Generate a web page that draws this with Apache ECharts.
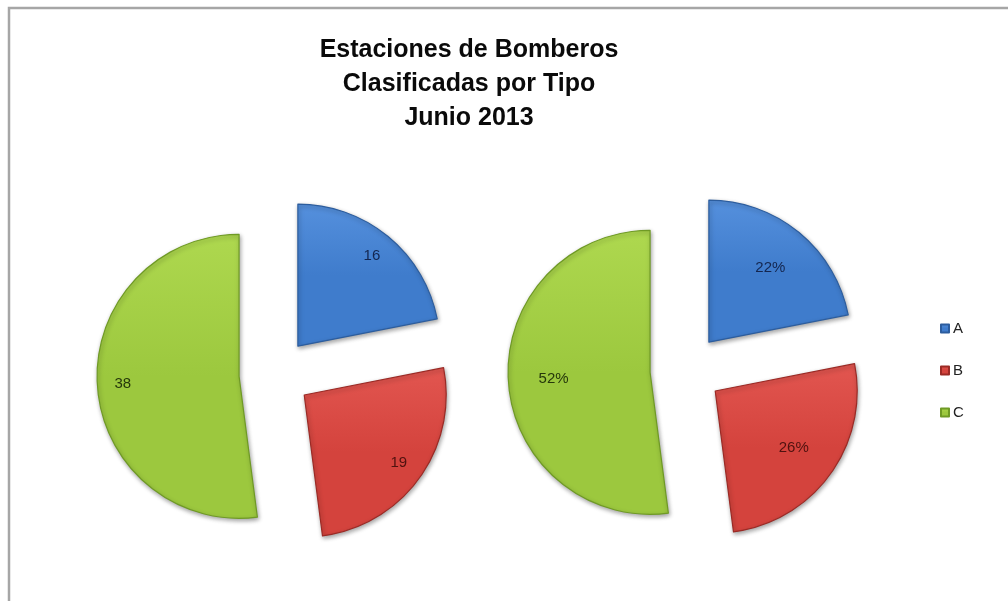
<!DOCTYPE html>
<html>
<head>
<meta charset="utf-8">
<script src="https://cdn.jsdelivr.net/npm/echarts@6/dist/echarts.min.js"></script>
<style>
  html, body { margin: 0; padding: 0; background: #ffffff; }
  #chart { width: 1008px; height: 601px; }
</style>
</head>
<body>
<div id="chart"></div>
<script>
// Fire stations by type, June 2013
const categories = ['A', 'B', 'C'];
const stationCounts = [16, 19, 38];
const titleLines = ['Estaciones de Bomberos', 'Clasificadas por Tipo', 'Junio 2013'];

const baseColors = ['#3f7ccc', '#d4433d', '#9cc83e'];
const lightColors = ['#5590dd', '#e25650', '#aed84f'];
const darkColors = ['#2c5d9e', '#9b2a25', '#6f9a25'];
const labelColors = ['#14264f', '#4f120f', '#26380b'];

const RADIUS = 142;
const EXPLODE = 36;

// mid angle of each slice (degrees, counter-clockwise from +x), starting at 12 o'clock clockwise
function midAngles(values) {
  const total = values.reduce((a, b) => a + b, 0);
  let cum = 0;
  return values.map(v => {
    const m = 90 - (cum + v / 2) / total * 360;
    cum += v;
    return m;
  });
}
const mids = midAngles(stationCounts);

function buildData() {
  return categories.map((name, i) => ({
    name: name,
    value: stationCounts[i],
    selected: true,
    itemStyle: {
      color: new echarts.graphic.LinearGradient(0, 0, 0, 1, [
        { offset: 0, color: lightColors[i] },
        { offset: 0.5, color: baseColors[i] },
        { offset: 1, color: baseColors[i] }
      ]),
      borderColor: darkColors[i],
      borderWidth: 1.2,
      shadowBlur: 4,
      shadowColor: 'rgba(0,0,0,0.35)',
      shadowOffsetX: 1,
      shadowOffsetY: 2
    },
    label: { color: labelColors[i] }
  }));
}

// shift each inside label outward along its slice's mid angle
function labelPusher(push) {
  return function (params) {
    const a = mids[params.dataIndex] * Math.PI / 180;
    return { dx: push * Math.cos(a), dy: -push * Math.sin(a) };
  };
}

function pieSeries(center, formatter, push) {
  return {
    type: 'pie',
    center: center,
    radius: RADIUS,
    startAngle: 90,
    clockwise: true,
    selectedMode: 'multiple',
    selectedOffset: EXPLODE,
    percentPrecision: 0,
    animation: false,
    emphasis: { disabled: true },
    label: {
      show: true,
      position: 'inside',
      formatter: formatter,
      fontFamily: 'Liberation Sans, Arial, sans-serif',
      fontSize: 15
    },
    labelLine: { show: false },
    labelLayout: labelPusher(push),
    data: buildData()
  };
}

const chart = echarts.init(document.getElementById('chart'), null, { renderer: 'canvas' });
chart.setOption({
  backgroundColor: '#ffffff',
  title: {
    text: titleLines.join('\n'),
    left: 464,
    top: 28,
    textAlign: 'center',
    textStyle: {
      fontFamily: 'Liberation Sans, Arial, sans-serif',
      fontWeight: 'bold',
      fontSize: 25,
      lineHeight: 34,
      color: '#0a0a0a'
    }
  },
  legend: {
    orient: 'vertical',
    left: 935,
    top: 316,
    icon: 'rect',
    itemWidth: 8,
    itemHeight: 8,
    itemGap: 27,
    selectedMode: false,
    textStyle: {
      fontFamily: 'Liberation Sans, Arial, sans-serif',
      fontSize: 15,
      color: '#222222',
      padding: [0, 0, 0, -1]
    },
    data: categories
  },
  graphic: [{
    type: 'rect',
    shape: { x: 9, y: 8, width: 1100, height: 700 },
    style: { fill: 'none', stroke: '#a6a6a6', lineWidth: 2.5 },
    silent: true
  }],
  series: [
    pieSeries([275, 374], '{c}', 0.3 * RADIUS),
    pieSeries([686, 370], '{d}%', 0.16 * RADIUS)
  ]
});
</script>
</body>
</html>
